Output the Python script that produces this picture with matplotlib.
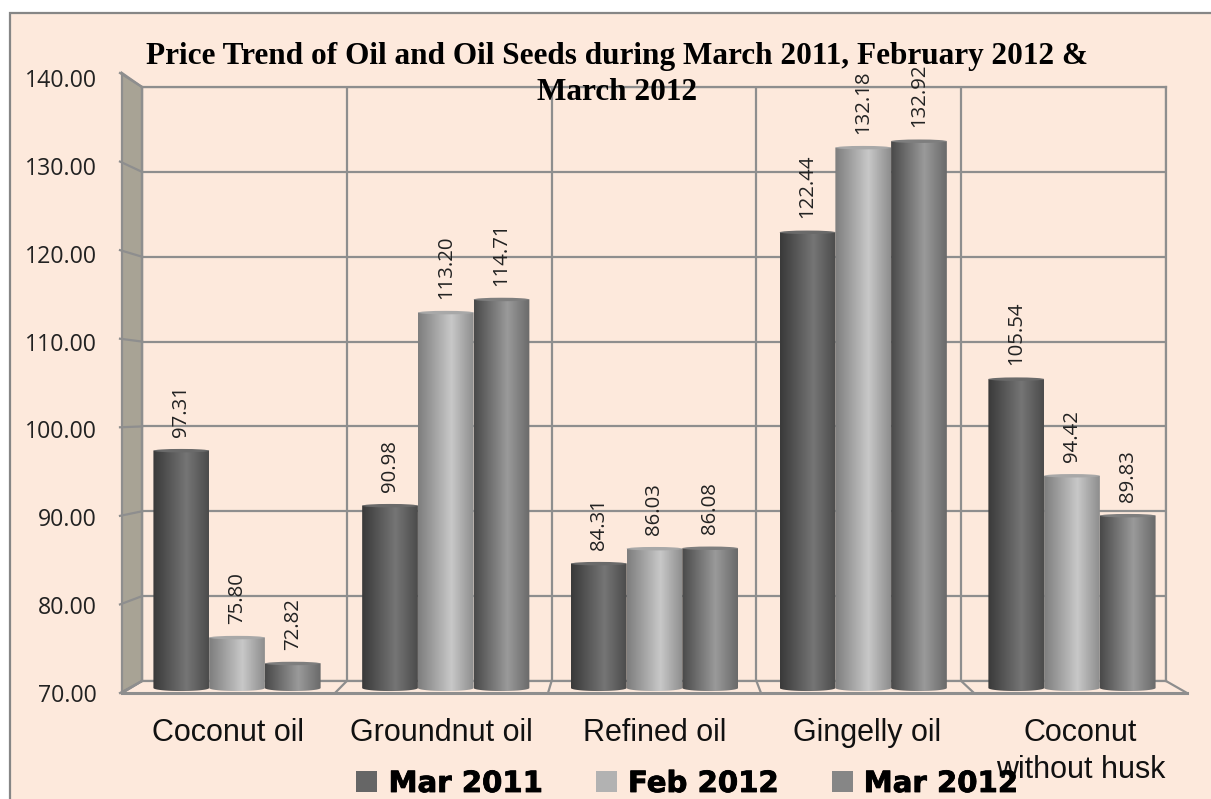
import numpy as np
import matplotlib
matplotlib.use('Agg')
import matplotlib.pyplot as plt
import matplotlib.patheffects as pe
from matplotlib.colors import LinearSegmentedColormap
from matplotlib.patches import Ellipse, PathPatch, Polygon, Rectangle
from matplotlib.path import Path

categories = ['Coconut oil', 'Groundnut oil', 'Refined oil', 'Gingelly oil', 'Coconut\nwithout husk']
mar_2011 = [97.31, 90.98, 84.31, 122.44, 105.54]
feb_2012 = [75.80, 113.20, 86.03, 132.18, 94.42]
mar_2012 = [72.82, 114.71, 86.08, 132.92, 89.83]
y_ticks = [70, 80, 90, 100, 110, 120, 130, 140]
y_labels = ['70.00', '80.00', '90.00', '100.00', '110.00', '120.00', '130.00', '140.00']
series_names = ['Mar 2011', 'Feb 2012', 'Mar 2012']

W, H = 1211, 799
BG = '#FDE9DC'
GRID = '#8E8E8E'


# axes from a box given in picture pixels
def px_axes(left, top, right, bottom, zorder):
    a = fig.add_axes([left / W, 1 - bottom / H, (right - left) / W, (bottom - top) / H])
    a.set_zorder(zorder)
    a.patch.set_visible(False)
    return a


fig = plt.figure(figsize=(W / 100, H / 100), dpi=100, facecolor='white')

# frame, side wall and floor, in pixels
deco = px_axes(0, 0, W, H, 0)
deco.set_xlim(0, W)
deco.set_ylim(H, 0)
deco.axis('off')
deco.add_patch(Rectangle((9.5, 12.5), W + 20, H + 20, fc=BG, ec='#868686', lw=1.6))
deco.add_patch(Polygon([(122, 73), (142, 87), (142, 681), (122, 693)], fc='#A8A395', ec=GRID, lw=1.6))
front_y = np.linspace(693, 73, len(y_ticks))
back_y = np.linspace(681, 87, len(y_ticks))
for fy, by in zip(front_y, back_y):
    deco.plot([120, 142], [fy, by], color=GRID, lw=1.6)
front_x = np.linspace(122, 1187, 6)
back_x = np.linspace(142, 1166, 6)
for fx, bx in zip(front_x, back_x):
    deco.plot([fx, bx], [693, 681], color=GRID, lw=1.6)
deco.plot([122, 1187], [693, 693], color=GRID, lw=2.2)

# back wall grid
back = px_axes(142, 87, 1166, 681, 1)
back.set_xlim(0, 5)
back.set_ylim(70, 140)
back.set_xticks(range(6))
back.set_yticks(y_ticks)
back.grid(True, color=GRID, lw=1.6)
back.tick_params(length=0, labelleft=False, labelbottom=False)
for s in back.spines.values():
    s.set_color(GRID)
    s.set_linewidth(1.6)

# scale for the tick labels
front = px_axes(122, 78, 1187, 693, 2)
front.set_xlim(-0.5, 4.5)
front.set_ylim(70, 140)
front.set_xticks(range(5))
front.set_xticklabels(categories, fontsize=22, family='Liberation Sans', color='#111111', linespacing=1.3)
front.set_yticks(y_ticks)
front.set_yticklabels(y_labels, fontsize=16.7, family='Open Sans', color='#222222')
front.tick_params(length=0)
front.tick_params(axis='x', pad=18)
front.tick_params(axis='y', pad=18)
for s in front.spines.values():
    s.set_visible(False)

# bars
ax = px_axes(132.65, 79.7, 1176.35, 688, 3)
ax.set_xlim(-0.5, 4.5)
ax.set_ylim(70, 140)
ax.axis('off')

series = [mar_2011, feb_2012, mar_2012]
flat = ['#666666', '#B2B2B2', '#868686']
stops = [['#3A3A3A', '#757575', '#4C4C4C'],
         ['#7E7E7E', '#C8C8C8', '#8E8E8E'],
         ['#4A4A4A', '#9A9A9A', '#6A6A6A']]
caps = ['#6A6A6A', '#A8A8A8', '#7E7E7E']
bar_w = 0.267
ell_h = 0.4

for i, vals in enumerate(series):
    x = np.arange(len(vals)) + (i - 1) * bar_w
    bars = ax.bar(x, np.array(vals) - 70, bar_w, bottom=70, color=flat[i], label=series_names[i], zorder=2)
    cmap = LinearSegmentedColormap.from_list('g', list(zip([0, 0.6, 1], stops[i])))
    for xc, v, b in zip(x, vals, bars):
        b.set_visible(False)
        x0, x1 = xc - bar_w / 2, xc + bar_w / 2
        im = ax.imshow(np.linspace(0, 1, 64).reshape(1, -1), cmap=cmap, aspect='auto',
                       extent=(x0, x1, 69, v), zorder=2 + i * 0.1)
        t = np.linspace(np.pi, 2 * np.pi, 24)
        xs = xc + bar_w / 2 * np.cos(t)
        ys = 70 + 0.7 / 2 * np.sin(t)
        verts = [(x0, v)] + list(zip(xs, ys)) + [(x1, v), (x0, v)]
        clip = PathPatch(Path(verts), transform=ax.transData, visible=False)
        ax.add_patch(clip)
        im.set_clip_box(fig.bbox)
        im.set_clip_path(clip)
        ax.add_patch(Ellipse((xc, v), bar_w, ell_h, fc=caps[i], ec='none', zorder=2.5 + i * 0.1, clip_on=False))
        ax.annotate(f'{v:.2f}', (xc, v), xytext=(0, 10), textcoords='offset points', rotation=90,
                    ha='center', va='bottom', fontsize=14.7, family='Open Sans', color='#222222', zorder=6,
                    annotation_clip=False)
ax.set_xlim(-0.5, 4.5)
ax.set_ylim(70, 140)

# legend sits over the last category label
leg_handles = [Rectangle((0, 0), 1, 1, fc=c, ec='none') for c in flat]
leg = fig.legend(leg_handles, series_names, ncol=3, frameon=False, loc='center',
                 bbox_to_anchor=(687 / W, 1 - 784 / H), prop={'family': 'DejaVu Sans', 'weight': 'bold', 'size': 21},
                 handlelength=0.72, handleheight=0.72, handletextpad=0.38, columnspacing=1.83, labelcolor='black')
leg.set_zorder(9)
for txt in leg.get_texts():
    txt.set_path_effects([pe.withStroke(linewidth=0.6, foreground='black')])

fig.text(617 / W, 1 - 74.5 / H, 'Price Trend of Oil and Oil Seeds during March 2011, February 2012 &\nMarch 2012',
         ha='center', va='center', fontsize=22.5, family='Liberation Serif', weight='bold', color='black',
         linespacing=1.3, zorder=10)

fig.savefig('out.png', dpi=100, facecolor='white')
